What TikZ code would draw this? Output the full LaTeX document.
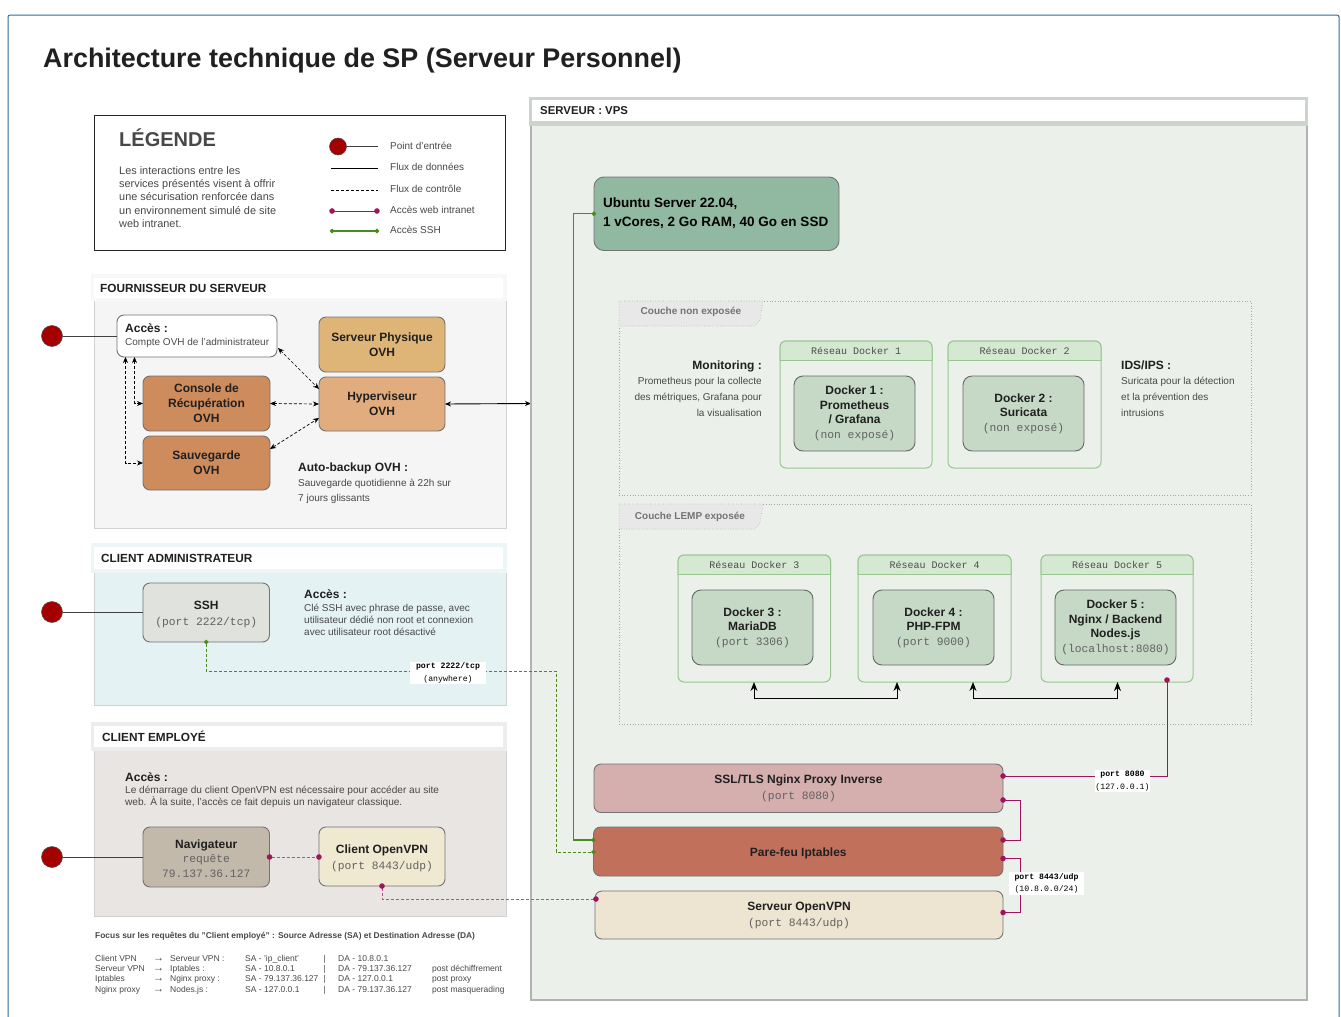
\documentclass[tikz,border=0pt]{standalone}
\usepackage{fontspec}
\setmainfont{Liberation Sans}
\setmonofont{Liberation Mono}
\usetikzlibrary{arrows.meta,calc}
\definecolor{frameblue}{HTML}{2F6C9E}
\definecolor{entry}{HTML}{A50000}
\definecolor{mag}{HTML}{A0145F}
\definecolor{grn}{HTML}{4C8A1E}
\definecolor{txt}{HTML}{202020}
\definecolor{soft}{HTML}{484848}
\definecolor{dockin}{HTML}{C5D9C6}
\definecolor{netl}{HTML}{97C78F}
\definecolor{pfour}{HTML}{F5F5F5}
\definecolor{padm}{HTML}{E5F2F4}
\definecolor{pemp}{HTML}{E8E5E2}
\definecolor{cphys}{HTML}{DFB577}
\definecolor{chyp}{HTML}{E1AC7E}
\definecolor{ccons}{HTML}{CE8B5C}
\definecolor{cssh}{HTML}{E0E2DD}
\definecolor{cnav}{HTML}{C3B9AA}
\definecolor{cvpnc}{HTML}{F0E9D2}
\definecolor{cvps}{HTML}{EBF0EB}
\definecolor{cvpsb}{HTML}{CDD4CD}
\definecolor{cubu}{HTML}{91B8A0}
\definecolor{cssl}{HTML}{D5AEAE}
\definecolor{cfw}{HTML}{C0705B}
\definecolor{csvpn}{HTML}{EDE5D2}
\newcommand\bx[7]{%
 \pgfmathsetmacro\bxcx{(#2+#4)/2}\pgfmathsetmacro\bxcy{(#3+#5)/2}%
 \pgfmathsetmacro\bxw{#4-#2}\pgfmathsetmacro\bxh{#5-#3}%
 \node[#6,minimum width=\bxw pt,minimum height=\bxh pt,inner sep=0pt,outer sep=0pt] (#1) at (\bxcx,\bxcy) {#7};}
\newcommand\fs[2]{\fontsize{#1}{#2}\selectfont}
\tikzset{
 x=1pt,y=-1pt,
 card/.style={draw=black!55,rounded corners=7pt,line width=.9pt,align=center,text=txt,font=\fs{12}{15}\bfseries},
 plain/.style={anchor=north west,inner sep=0pt,align=left,text=soft,font=\fs{10}{13}},
 head/.style={anchor=west,inner sep=0pt,text=txt,font=\fs{11.8}{14}\bfseries},
 panel/.style={fill=#1,draw=black!18,line width=1pt},
 ctrl/.style={densely dashed,line width=.7pt,black,{Stealth[length=6pt,width=5pt]}-{Stealth[length=6pt,width=5pt]}},
 web/.style={mag,line width=1pt,{Circle[length=5.5pt]}-{Circle[length=5.5pt]},shorten <=-2.7pt,shorten >=-2.7pt},
 webd/.style={mag!75!white,densely dashed,line width=1pt,{Circle[length=5.5pt,mag]}-{Circle[length=5.5pt,mag]},shorten <=-2.7pt,shorten >=-2.7pt},
 sshl/.style={grn,line width=1.1pt,{Circle[length=4.5pt]}-{Circle[length=4.5pt]},shorten <=-2.2pt,shorten >=-2.2pt},
 sshd/.style={grn,densely dashed,line width=.9pt,{Circle[length=4.5pt]}-{Circle[length=4.5pt]},shorten <=-2.2pt,shorten >=-2.2pt},
 entrydot/.style={circle,fill=entry,draw=black!70,line width=.5pt,minimum size=21pt,inner sep=0pt},
 datal/.style={black!75,line width=1pt},
 zone/.style={draw=black!35,dotted,line width=.7pt},
 tabz/.style={fill=black!9,draw=black!30,dotted,line width=.6pt},
 tabt/.style={font=\fs{10}{12}\bfseries,text=black!55,inner sep=0pt},
 dock/.style={draw=black!60,fill=dockin,rounded corners=9pt,line width=.9pt,align=center,text=txt,font=\fs{12}{14.5}\bfseries},
 net/.style={draw=netl,rounded corners=6pt,line width=1pt},
 nett/.style={font=\ttfamily\fs{10}{11},text=black!70,inner sep=0pt},
 lab/.style={fill=white,inner sep=0pt,align=center,font=\ttfamily\fs{8.2}{11.5},text=black},
 tabl/.style={anchor=base west,inner sep=0pt,text=soft,font=\fs{8.5}{10}},
 leg/.style={anchor=base west,inner sep=0pt,text=soft,font=\fs{10}{12}},
 barrow/.style={black,line width=1pt,{Stealth[length=9pt,width=7pt]}-{Stealth[length=9pt,width=7pt]}},
}
\newcommand\pan[6]{% name,y0 (band top),y1 (white bottom),y2 (band bottom),y3 (body bottom),fill
 \bx{#1}{94}{#4}{506}{#5}{panel=#6}{}
 \fill[#6!70!white] (91,#2) rectangle (507,#4+.6);
 \fill[white] (94,#2+4) rectangle (503,#3);}
\newcommand\net[7]{% name,x1,y1,x2,ymid,y2,text
 \bx{#1}{#2}{#3}{#4}{#6}{net}{}
 \begin{scope}
 \clip (#2-1,#3-1) rectangle (#4+1,#5);
 \fill[netl!40!white,rounded corners=6pt] (#2,#3) rectangle (#4,#6);
 \draw[net] (#2,#3) rectangle (#4,#6);
 \end{scope}
 \draw[netl,line width=1pt] (#2,#5) -- (#4,#5);
 \node[nett] (#1t) at ({(#2+#4)/2},{(#3+#5)/2}) {#7};}
\newcommand\tr[7]{%
 \node[tabl] (#1a) at (95,#2) {#3};
 \node[tabl,font=\fs{11}{10}] (#1b) at (153,#2) {→};
 \node[tabl] (#1c) at (170,#2) {#4};
 \node[tabl] (#1d) at (245,#2) {#5};
 \node[tabl] (#1e) at (323.5,#2) {|};
 \node[tabl] (#1f) at (338,#2) {#6};
 \node[tabl] (#1g) at (432,#2) {#7};}
\newcommand\portt[1]{{\ttfamily\mdseries\fs{11.3}{14.5}\color{black!62}#1}}
\begin{document}
\begin{tikzpicture}
\useasboundingbox (0,0) rectangle (1341,1017);
\fill[white] (0,0) rectangle (1341,1017);
\draw[frameblue,line width=1pt,rounded corners=2pt] (8,1017) -- (8,15) -- (1339,15) -- (1339,1017);
\node[anchor=west,inner sep=0pt,text=txt,font=\fs{26.9}{30}\bfseries] (title) at (43,61) {Architecture technique de SP (Serveur Personnel)};

% ---- legend
\bx{legend}{94}{115}{505}{250}{draw=black!85,line width=1pt}{}
\node[anchor=base west,inner sep=0pt,text=soft,font=\fs{20}{22}\bfseries] (legt) at (119,146) {LÉGENDE};
\node[plain,font=\fs{10.9}{13.3}] (legb) at (119,166) {Les interactions entre les\\services présentés visent à offrir\\une sécurisation renforcée dans\\un environnement simulé de site\\web intranet.};
\node[entrydot,minimum size=17pt] (le1) at (338,146.5) {};
\coordinate (le1e) at (378,146.5);
\draw[datal,line width=.8pt] (le1) -- (le1e);
\coordinate (le2a) at (331,168); \coordinate (le2b) at (378,168);
\draw[black,line width=.8pt] (le2a) -- (le2b);
\coordinate (le3a) at (331,190); \coordinate (le3b) at (378,190);
\draw[black,densely dashed,line width=.7pt] (le3a) -- (le3b);
\coordinate (le4a) at (332,211); \coordinate (le4b) at (377,211);
\draw[web] (le4a) -- (le4b);
\coordinate (le5a) at (332,231); \coordinate (le5b) at (377,231);
\draw[sshl] (le5a) -- (le5b);
\node[leg] (lt1) at (390,149.5) {Point d'entrée};
\node[leg] (lt2) at (390,170.5) {Flux de données};
\node[leg] (lt3) at (390,192.5) {Flux de contrôle};
\node[leg] (lt4) at (390,213.5) {Accès web intranet};
\node[leg] (lt5) at (390,233.5) {Accès SSH};

% ---- fournisseur
\pan{pf}{274}{298}{300}{528}{pfour}
\node[head] (pft) at (100,288) {FOURNISSEUR DU SERVEUR};
\bx{acc}{117}{315}{277}{357}{card,fill=white}{}
\node[plain,text=txt,font=\fs{12}{14}\bfseries] (acct) at (125,323) {Accès :};
\node[plain,text=txt!80,font=\fs{10}{12}] (accd) at (125,338) {Compte OVH de l'administrateur};
\bx{phys}{319}{317}{445}{372}{card,fill=cphys}{Serveur Physique\\OVH}
\bx{hyp}{319}{377}{445}{431}{card,fill=chyp}{Hyperviseur\\OVH}
\bx{cons}{143}{376}{270}{431}{card,fill=ccons}{Console de\\Récupération\\OVH}
\bx{sauv}{143}{436}{270}{490}{card,fill=ccons}{Sauvegarde\\OVH}
\node[entrydot] (e1) at (52,336) {};
\draw[datal] (e1) -- (acc.west |- e1);
\draw[ctrl] ($(acc.south east)+(1,-9)$) -- ($(hyp.north west)+(0,12)$);
\draw[ctrl] (cons.east) -- (hyp.west);
\draw[ctrl] ($(sauv.north east)+(0,13)$) -- ($(hyp.south west)+(0,-13)$);
\draw[ctrl] ($(acc.south west)+(17.5,0)$) |- (cons.west);
\draw[ctrl] ($(acc.south west)+(8.5,0)$) |- (sauv.west);
\coordinate (vpsin) at (531,403.5);
\draw[black,line width=.9pt,{Stealth[length=6pt,width=5pt]}-{Stealth[length=6pt,width=5pt]}] (hyp.east) -- (vpsin);
\node[plain,text=txt,font=\fs{12}{14}\bfseries] (abt) at (298,463) {Auto-backup OVH :};
\node[plain,font=\fs{10}{15.2}] (abd) at (298,479) {Sauvegarde quotidienne à 22h sur\\7 jours glissants};

% ---- client admin
\pan{pa}{543}{569}{572}{705}{padm}
\node[head] (pat) at (101,558) {CLIENT ADMINISTRATEUR};
\bx{ssh}{143}{583}{269.5}{642}{card,fill=cssh}{\rule{0pt}{13pt}SSH\\[1pt]\portt{(port 2222/tcp)}}
\node[entrydot] (e2) at (52,612) {};
\draw[datal] (e2) -- (ssh.west |- e2);
\node[plain,text=txt,font=\fs{12}{14}\bfseries] (sat) at (304,589) {Accès :};
\node[plain,font=\fs{10}{12.2}] (sad) at (304,604) {Clé SSH avec phrase de passe, avec\\utilisateur dédié non root et connexion\\avec utilisateur root désactivé};

% ---- client employe
\pan{pe}{722}{747}{750}{916}{pemp}
\node[head] (pet) at (102,736) {CLIENT EMPLOYÉ};
\node[plain,text=txt,font=\fs{12}{14}\bfseries] (eat) at (125,772) {Accès :};
\node[plain,font=\fs{10.1}{12}] (ead) at (125,786) {Le démarrage du client OpenVPN est nécessaire pour accéder au site\\web. À la suite, l'accès ce fait depuis un navigateur classique.};
\bx{nav}{143}{827}{269.5}{887}{card,fill=cnav}{\rule{0pt}{13pt}Navigateur\\[-1pt]\portt{requête}\\\portt{79.137.36.127}}
\bx{cvpn}{319}{827}{445}{886}{card,fill=cvpnc}{\rule{0pt}{13pt}Client OpenVPN\\[1pt]\portt{(port 8443/udp)}}
\node[entrydot] (e3) at (52,857) {};
\draw[datal] (e3) -- (nav.west |- e3);
\draw[webd] (nav.east) -- (cvpn.west |- nav.east);

% ---- focus
\node[anchor=base west,inner sep=0pt,text=soft,font=\fs{8.4}{10}\bfseries] (foc) at (95,938) {Focus sur les requêtes du "Client employé" : Source Adresse (SA) et Destination Adresse (DA)};
\tr{ra}{961}{Client VPN}{Serveur VPN :}{SA - 'ip\_client'}{DA - 10.8.0.1}{}
\tr{rb}{971}{Serveur VPN}{Iptables :}{SA - 10.8.0.1}{DA - 79.137.36.127}{post déchiffrement}
\tr{rc}{981.5}{Iptables}{Nginx proxy :}{SA - 79.137.36.127}{DA - 127.0.0.1}{post proxy}
\tr{rd}{992}{Nginx proxy}{Nodes.js :}{SA - 127.0.0.1}{DA - 79.137.36.127}{post masquerading}

% ---- VPS
\bx{vps}{531}{124}{1307}{1000}{fill=cvps,draw=black!30,line width=2.5pt}{}
\fill[cvpsb] (529,97) rectangle (1308,125.5);
\fill[white] (532,100) rectangle (1305,121);
\node[head,font=\fs{11.4}{13}\bfseries] (vpst) at (540,111) {SERVEUR : VPS};
\bx{ubu}{594}{177}{839}{250.5}{card,fill=cubu,rounded corners=10pt}{}
\node[plain,text=black,font=\fs{13.5}{18.2}\bfseries] (ubut) at (603,198) {Ubuntu Server 22.04,\\1 vCores, 2 Go RAM, 40 Go en SSD};

% couche non exposee
\bx{z1}{619}{301}{1251}{495}{zone}{}
\filldraw[tabz] (619,301) -- (763,301) -- (760,320) -- (755,326) -- (619,326) -- cycle;
\node[tabt] (z1t) at (691,312) {Couche non exposée};
\net{n1}{780}{341}{932}{360}{468}{Réseau Docker 1}
\net{n2}{948}{341}{1101}{360}{468}{Réseau Docker 2}
\bx{d1}{794}{376}{915}{451}{dock}{Docker 1 :\\Prometheus\\/ Grafana\\\portt{(non exposé)}}
\bx{d2}{963}{376}{1084}{451}{dock}{Docker 2 :\\Suricata\\\portt{(non exposé)}}
\node[anchor=north east,inner sep=0pt,align=right,text=txt,font=\fs{12}{14}\bfseries] (mont) at (762,361) {Monitoring :};
\node[anchor=north east,inner sep=0pt,align=right,text=soft,font=\fs{10}{16}] (mond) at (762,377) {Prometheus pour la collecte\\des métriques, Grafana pour\\la visualisation};
\node[plain,text=txt,font=\fs{12}{14}\bfseries] (idst) at (1121,361) {IDS/IPS :};
\node[plain,font=\fs{10}{16}] (idsd) at (1121,377) {Suricata pour la détection\\et la prévention des\\intrusions};

% couche LEMP
\bx{z2}{619}{504}{1251}{724}{zone}{}
\filldraw[tabz] (619,504) -- (763,504) -- (760,523) -- (755,529) -- (619,529) -- cycle;
\node[tabt] (z2t) at (690,517) {Couche LEMP exposée};
\net{n3}{678}{555}{830.5}{574.5}{682}{Réseau Docker 3}
\net{n4}{858}{555}{1011}{574.5}{682}{Réseau Docker 4}
\net{n5}{1041}{555}{1193}{574.5}{682}{Réseau Docker 5}
\bx{d3}{692}{590}{813}{665}{dock}{Docker 3 :\\MariaDB\\\portt{(port 3306)}}
\bx{d4}{873}{590}{994}{665}{dock}{Docker 4 :\\PHP-FPM\\\portt{(port 9000)}}
\bx{d5}{1055}{590}{1176}{665}{dock}{Docker 5 :\\Nginx / Backend\\Nodes.js\\\portt{(localhost:8080)}}
\draw[barrow] ($(n3.south west)+(76,0)$) -- ++(0,16) -| ($(n4.south west)+(39,0)$);
\draw[barrow] ($(n4.south west)+(115,0)$) -- ++(0,16) -| ($(n5.south west)+(76.5,0)$);

% bottom stack
\bx{ssl}{594}{764}{1003}{812.5}{card,fill=cssl}{SSL/TLS Nginx Proxy Inverse\\[1pt]\portt{(port 8080)}}
\bx{fw}{593.5}{827}{1003}{876}{card,fill=cfw}{\rule{0pt}{12pt}Pare-feu Iptables}
\bx{svpn}{595}{891}{1003}{939}{card,fill=csvpn}{Serveur OpenVPN\\[1pt]\portt{(port 8443/udp)}}

% connectors
\coordinate (c5) at (1167,680);
\coordinate (sslp) at ($(ssl.north east)+(0,12)$);
\draw[web] (c5) |- (sslp);
\draw[web] ($(ssl.south east)+(0,-12.5)$) -- ++(17,0) |- ($(fw.north east)+(0,13)$);
\draw[web] ($(fw.north east)+(0,31.5)$) -- ++(17,0) |- ($(svpn.north east)+(0,21.5)$);
\bx{l8080}{1095}{770}{1150}{792}{lab}{\bfseries port 8080\\[1pt]\mdseries (127.0.0.1)}
\bx{l8443}{1009}{872}{1084}{895}{lab}{\bfseries port 8443/udp\\[1pt]\mdseries (10.8.0.0/24)}
\draw[sshl] ($(fw.north west)+(0,13)$) -- ++(-20,0) |- (ubu.west);
\coordinate (bendssh) at (556,671);
\draw[sshd] (ssh.south) |- (bendssh) |- ($(fw.north west)+(0,25)$);
\bx{l2222}{410}{662}{486}{684}{lab}{\bfseries port 2222/tcp\\[1pt]\mdseries (anywhere)}
\coordinate (svpnp) at ($(svpn.north west)+(1,8)$);
\draw[webd] (cvpn.south) |- (svpnp);
\end{tikzpicture}
\end{document}
